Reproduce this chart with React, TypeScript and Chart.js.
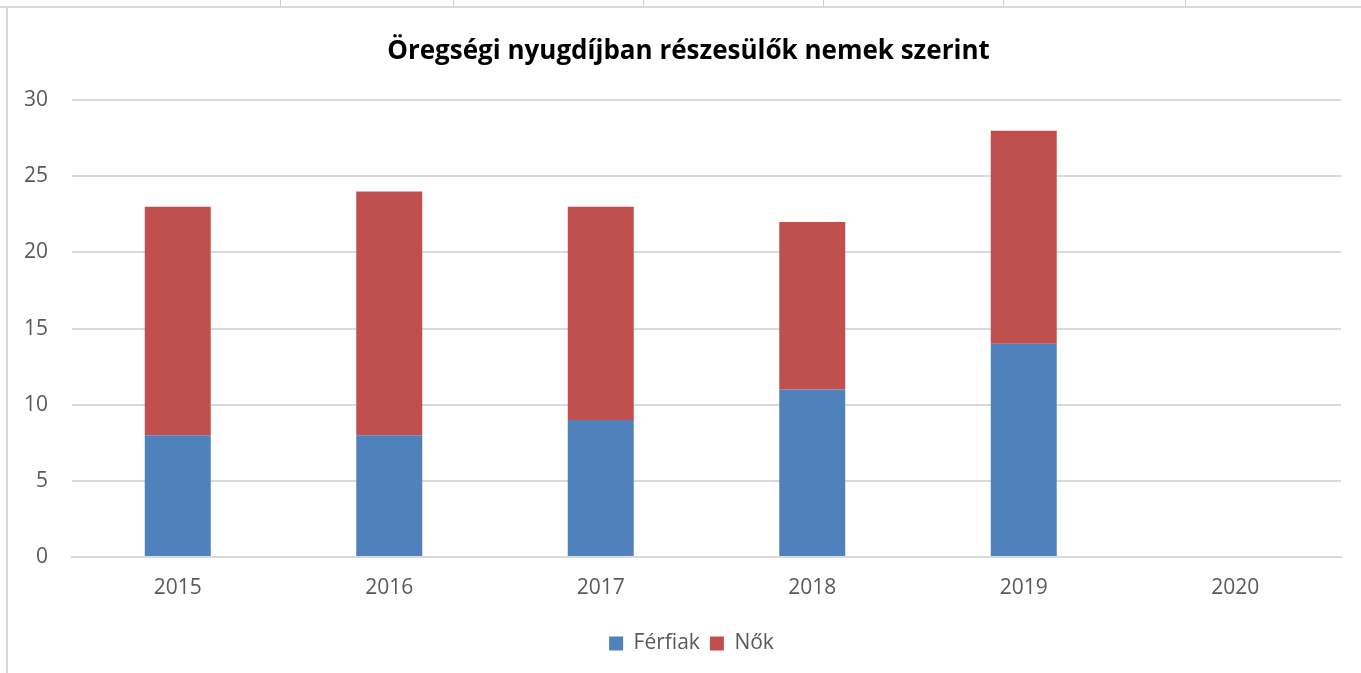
import React, { useEffect, useRef } from "react";
import { Chart, registerables } from "chart.js";

Chart.register(...registerables);

const categories = ["2015", "2016", "2017", "2018", "2019", "2020"];
const ferfiak = [8, 8, 9, 11, 14, null];
const nok = [15, 16, 14, 11, 14, null];
const titleText = "Öregségi nyugdíjban részesülők nemek szerint";

const FONT = "'Open Sans', 'Noto Sans', sans-serif";

const shiftBlocks = {
  id: "shiftBlocks",
  afterLayout(chart: any) {
    const shift = 28;
    if (chart.titleBlock) {
      chart.titleBlock.left += shift;
    }
    if (chart.legend) {
      chart.legend.left += shift + 6;
    }
  },
};

export default function App() {
  const ref = useRef<HTMLCanvasElement | null>(null);

  useEffect(() => {
    document.body.style.margin = "0";
    const ctx = ref.current!;
    const chart = new Chart(ctx, {
      type: "bar",
      data: {
        labels: categories,
        datasets: [
          {
            label: "Férfiak",
            data: ferfiak,
            backgroundColor: "#4f81bd",
            categoryPercentage: 1,
            barPercentage: 0.312,
          },
          {
            label: "Nők",
            data: nok,
            backgroundColor: "#c0504d",
            categoryPercentage: 1,
            barPercentage: 0.312,
          },
        ],
      },
      plugins: [shiftBlocks],
      options: {
        animation: false,
        responsive: false,
        maintainAspectRatio: false,
        layout: { padding: { top: 0, left: 0, right: 20, bottom: 9 } },
        plugins: {
          title: {
            display: true,
            text: titleText,
            color: "#000000",
            font: { family: FONT, size: 26, weight: "bold", lineHeight: 1.2 },
            padding: { top: 27, bottom: 33 },
          },
          legend: {
            position: "bottom",
            labels: {
              font: { family: FONT, size: 21 },
              color: "#595959",
              boxWidth: 14,
              boxHeight: 14,
              padding: 10,
            },
          },
          tooltip: { enabled: false },
        },
        scales: {
          x: {
            stacked: true,
            grid: { display: false, drawTicks: false },
            border: { display: true, color: "#d9d9d9", width: 2 },
            ticks: {
              color: "#595959",
              font: { family: FONT, size: 21 },
              padding: 18,
            },
            afterFit: (scale: any) => {
              scale.height = 66;
            },
          },
          y: {
            stacked: true,
            min: 0,
            max: 30,
            grid: { color: "#d9d9d9", lineWidth: 2, drawTicks: false },
            border: { display: false },
            ticks: {
              stepSize: 5,
              color: "#595959",
              font: { family: FONT, size: 21 },
              padding: 24,
            },
            afterFit: (scale: any) => {
              scale.width = 64;
            },
          },
        },
      },
    });
    return () => chart.destroy();
  }, []);

  const colLines = [280, 453, 643, 823, 1003, 1185];

  return (
    <div style={{ position: "relative", width: 1361, height: 673, background: "#fff", overflow: "hidden" }}>
      <div style={{ position: "absolute", left: 0, top: 6, width: 1361, height: 2, background: "#d9d9d9" }} />
      {colLines.map((x) => (
        <div key={x} style={{ position: "absolute", left: x, top: 0, width: 1, height: 7, background: "#d0d0d0" }} />
      ))}
      <div style={{ position: "absolute", left: 6, top: 8, width: 2, height: 665, background: "#d9d9d9" }} />
      <canvas
        ref={ref}
        width={1353}
        height={664}
        style={{ position: "absolute", left: 8, top: 9, width: 1353, height: 664 }}
      />
    </div>
  );
}
